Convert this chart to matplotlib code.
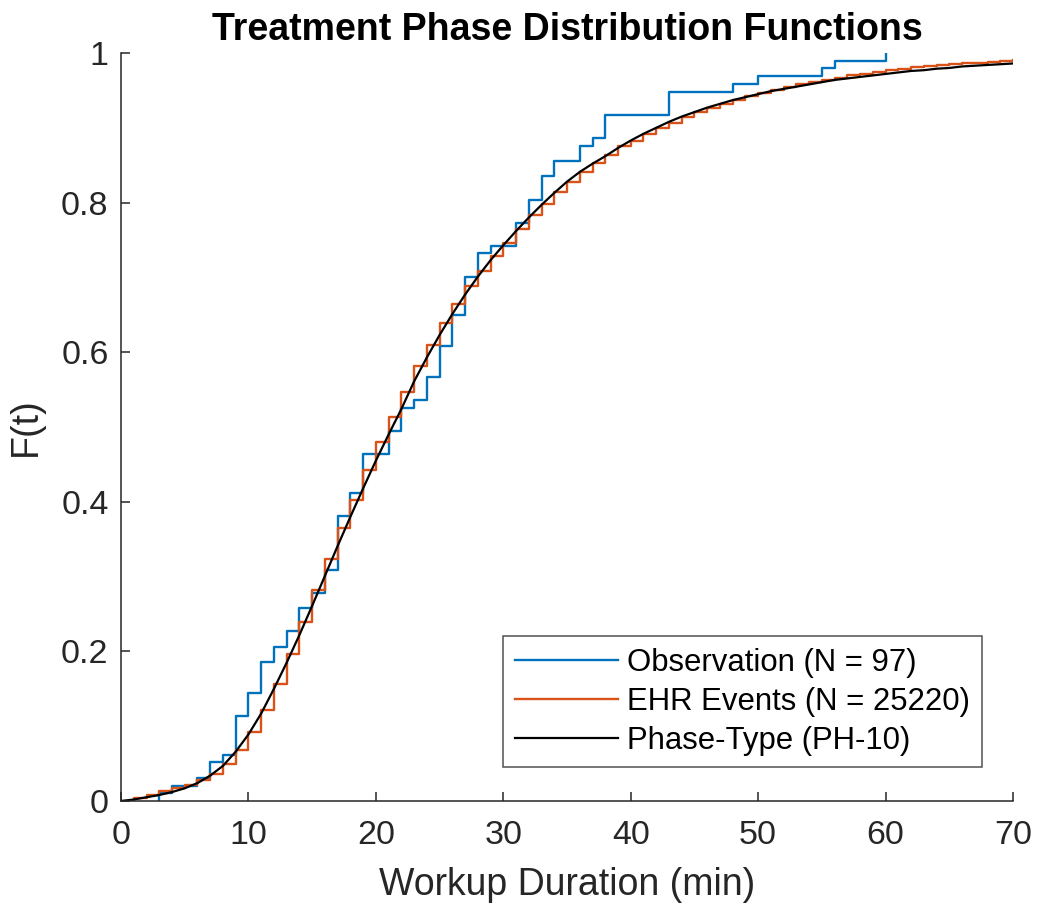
import numpy as np
import matplotlib
matplotlib.use("Agg")
import matplotlib.pyplot as plt

plt.rcParams['font.family'] = ['Liberation Sans', 'DejaVu Sans']

# observed workups: minute of each jump and cumulative count (N = 97)
obs_t = [3, 4, 6, 7, 8, 9, 10, 11, 12, 13, 14, 15, 16, 17, 18, 19, 21, 22, 23,
         24, 25, 26, 27, 28, 29, 31, 32, 33, 34, 36, 37, 38, 43, 48, 50, 55, 56, 60]
obs_n = [1, 2, 3, 5, 6, 11, 14, 18, 20, 22, 25, 27, 30, 37, 40, 45, 48, 51, 52,
         55, 59, 63, 68, 71, 72, 75, 78, 81, 83, 85, 86, 89, 92, 93, 94, 95, 96, 97]
obs_total = 97

# EHR event ECDF, one value per minute 0..70
ehr_t = list(range(0, 71))
ehr_F = [0.000, 0.004, 0.008, 0.013, 0.017, 0.021, 0.028, 0.036, 0.050, 0.068,
         0.092, 0.122, 0.156, 0.197, 0.239, 0.282, 0.324, 0.365, 0.402, 0.442,
         0.480, 0.513, 0.547, 0.581, 0.610, 0.639, 0.664, 0.688, 0.709, 0.728,
         0.746, 0.765, 0.783, 0.798, 0.814, 0.828, 0.841, 0.853, 0.864, 0.875,
         0.882, 0.892, 0.900, 0.907, 0.914, 0.921, 0.926, 0.932, 0.937, 0.943,
         0.947, 0.951, 0.955, 0.958, 0.961, 0.964, 0.967, 0.970, 0.972, 0.975,
         0.977, 0.979, 0.981, 0.982, 0.984, 0.985, 0.986, 0.987, 0.988, 0.989,
         0.990]

# fitted PH-10 distribution function, sampled each minute
ph_t = list(range(0, 71))
ph_F = [0.000, 0.002, 0.005, 0.008, 0.012, 0.017, 0.024, 0.034, 0.047, 0.066,
        0.089, 0.117, 0.150, 0.185, 0.222, 0.261, 0.301, 0.341, 0.380, 0.418,
        0.455, 0.490, 0.524, 0.561, 0.593, 0.623, 0.651, 0.677, 0.701, 0.723,
        0.743, 0.762, 0.780, 0.797, 0.813, 0.828, 0.841, 0.852, 0.862, 0.873,
        0.883, 0.892, 0.900, 0.908, 0.915, 0.921, 0.927, 0.932, 0.937, 0.941,
        0.945, 0.949, 0.952, 0.955, 0.958, 0.961, 0.964, 0.966, 0.968, 0.970,
        0.972, 0.974, 0.976, 0.977, 0.979, 0.980, 0.982, 0.983, 0.984, 0.985,
        0.986]

xticks = [0, 10, 20, 30, 40, 50, 60, 70]
yticks = [0, 0.2, 0.4, 0.6, 0.8, 1]
yticklabels = ['0', '0.2', '0.4', '0.6', '0.8', '1']

axcol = (0.15, 0.15, 0.15)

fig = plt.figure(figsize=(10.37, 9.09), dpi=100)
ax = fig.add_axes([0.1167, 0.1188, 0.8602, 0.8229])

x_obs = np.array([obs_t[0]] + obs_t)
F_obs = np.array([0] + obs_n) / obs_total
ax.step(x_obs, F_obs, where='post', color='#0072BD', lw=1.7,
        label='Observation (N = 97)')
ax.step(ehr_t, ehr_F, where='post', color='#D95319', lw=1.7,
        label='EHR Events (N = 25220)')
ax.plot(ph_t, ph_F, color='black', lw=1.6, label='Phase-Type (PH-10)')

ax.set_xlim(0, 70)
ax.set_ylim(0, 1)
ax.set_xticks(xticks)
ax.set_yticks(yticks)
ax.set_yticklabels(yticklabels)
ax.tick_params(direction='in', length=6.5, width=1.1, colors=axcol,
               labelsize=24.5)
ax.tick_params(axis='x', pad=14)
ax.tick_params(axis='y', pad=9)
for s in ['top', 'right']:
    ax.spines[s].set_visible(False)
for s in ['left', 'bottom']:
    ax.spines[s].set_color(axcol)
    ax.spines[s].set_linewidth(1.1)

ax.set_xlabel('Workup Duration (min)', fontsize=27, color=axcol, labelpad=11)
ax.set_ylabel('F(t)', fontsize=27, color=axcol, labelpad=12)
ax.set_title('Treatment Phase Distribution Functions', fontsize=27,
             fontweight='bold', pad=9)

leg = ax.legend(loc='lower right', bbox_to_anchor=(0.965, 0.045),
                borderaxespad=0, fontsize=22.4, fancybox=False,
                handlelength=3.3, handletextpad=0.3, labelspacing=0.28,
                borderpad=0.38)
leg.get_frame().set_edgecolor(axcol)
leg.get_frame().set_linewidth(1.1)

fig.savefig('out.png', dpi=100)
